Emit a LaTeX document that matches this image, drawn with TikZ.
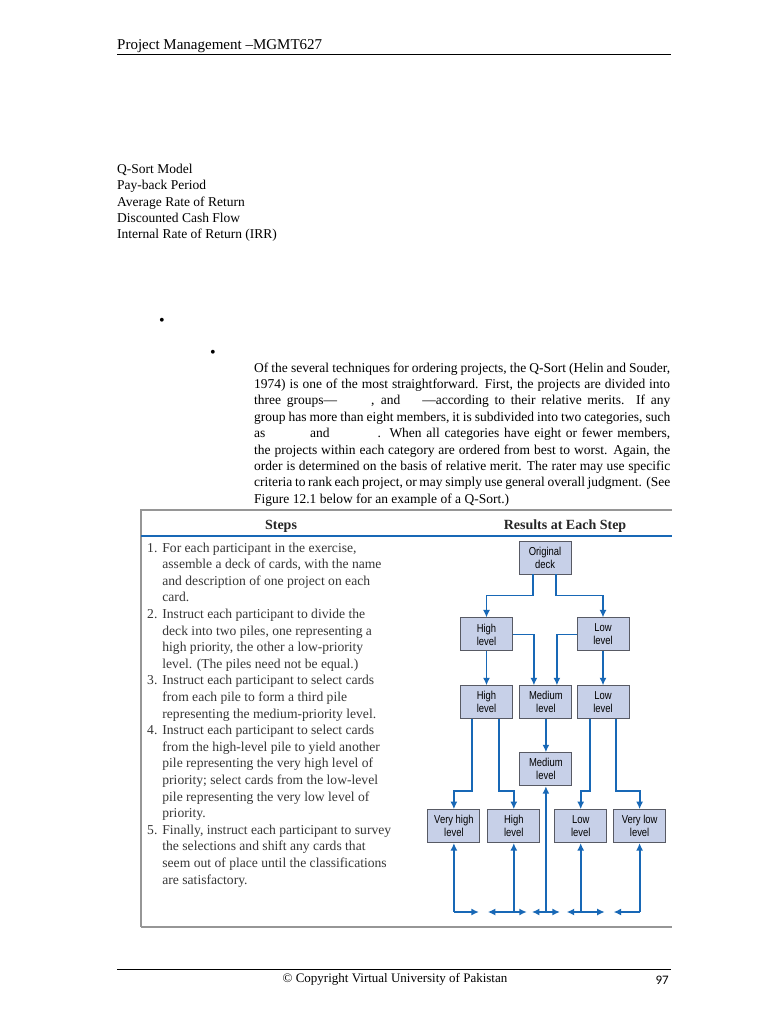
\documentclass[tikz,border=0pt]{standalone}
\usepackage{fontspec}
\setmainfont{Liberation Serif}
\newfontfamily\pilefont[FakeStretch=0.82]{Liberation Sans}
\newfontfamily\pagenumfont{Carlito}
\usetikzlibrary{arrows.meta,positioning}
\definecolor{pileFill}{RGB}{199,208,232}
\definecolor{pileLine}{RGB}{88,90,100}
\definecolor{flowBlue}{RGB}{24,104,182}
\definecolor{frameGray}{RGB}{150,150,150}
\definecolor{stepInk}{RGB}{55,55,55}
\tikzset{
  pile/.style={draw=pileLine, line width=0.9pt, fill=pileFill, align=center, minimum width=52pt, minimum height=33pt, inner sep=0pt, font=\pilefont\fontsize{11.5}{13}\selectfont},
  flow/.style={-{Latex[length=7.5pt,width=7pt]}, line width=1.8pt, draw=flowBlue},
  bodytext/.style={inner sep=0pt, anchor=base west, align=left, font=\fontsize{13.5}{16}\selectfont},
  colhead/.style={inner sep=0pt, anchor=base, font=\fontsize{14}{16}\selectfont\bfseries, text=black!85},
  pagerule/.style={line width=0.9pt, draw=black}
}

\begin{document}
\begin{tikzpicture}[x=1pt, y=-1pt]
  \useasboundingbox[fill=white] (0,0) rectangle (768,1024);

  % page head and foot
  \node[bodytext, font=\fontsize{15}{17}\selectfont] (runhead) at (117,50) {Project Management --MGMT627};
  \draw[pagerule] (117,54) -- (671,54);
  \draw[pagerule] (117,969) -- (671,969);
  \node[inner sep=0pt, anchor=base, font=\fontsize{13}{15}\selectfont] (copy) at (395,982) {\textcopyright{} Copyright Virtual University of Pakistan};
  \node[inner sep=0pt, anchor=base east, font=\pagenumfont\fontsize{13}{15}\selectfont] (pagenum) at (669,984) {97};

  % list of models (base sits on the last line)
  \node[bodytext] (models) at (117,238) {Q-Sort Model\\Pay-back Period\\Average Rate of Return\\Discounted Cash Flow\\Internal Rate of Return (IRR)};

  \node[bodytext, font=\fontsize{16}{18}\selectfont] (bulletA) at (159,325) {\textbullet};
  \node[bodytext, font=\fontsize{16}{18}\selectfont] (bulletB) at (210,357) {\textbullet};

  \node[bodytext, font=\fontsize{13.5}{16.4}\selectfont] (para) at (254,503.2) {%
    \makebox[416pt][s]{Of the several techniques for ordering projects, the Q-Sort (Helin and Souder,}\\
    \makebox[416pt][s]{1974) is one of the most straightforward. First, the projects are divided into}\\
    \makebox[416pt][s]{three groups---\hspace{34pt}, and\hspace{22pt}---according to their relative merits. If any}\\
    \makebox[416pt][s]{group has more than eight members, it is subdivided into two categories, such}\\
    \makebox[416pt][s]{as\hspace{40pt} and\hspace{48pt}. When all categories have eight or fewer members,}\\
    \makebox[416pt][s]{the projects within each category are ordered from best to worst. Again, the}\\
    \makebox[416pt][s]{order is determined on the basis of relative merit. The rater may use specific}\\
    \makebox[416pt][s]{criteria to rank each project, or may simply use general overall judgment. (See}\\
    Figure 12.1 below for an example of a Q-Sort.)};

  % figure frame
  \draw[frameGray, line width=1.2pt] (672,510) -- (141,510) -- (141,927);
  \draw[frameGray, line width=2pt] (141,927) -- (672,927);
  \draw[flowBlue, line width=1.1pt] (141,536) -- (672,536);
  \node[colhead] (stepsHead) at (281,529) {Steps};
  \node[colhead] (resultsHead) at (565,529) {Results at Each Step};

  \node[inner sep=0pt, anchor=base west, text=stepInk, font=\fontsize{13.6}{16.6}\selectfont] (steps) at (147,552) {%
    \begin{tabular}[t]{@{}r@{\hspace{5pt}}l@{}}
    1. & For each participant in the exercise,\\
       & assemble a deck of cards, with the name\\
       & and description of one project on each\\
       & card.\\
    2. & Instruct each participant to divide the\\
       & deck into two piles, one representing a\\
       & high priority, the other a low-priority\\
       & level. (The piles need not be equal.)\\
    3. & Instruct each participant to select cards\\
       & from each pile to form a third pile\\
       & representing the medium-priority level.\\
    4. & Instruct each participant to select cards\\
       & from the high-level pile to yield another\\
       & pile representing the very high level of\\
       & priority; select cards from the low-level\\
       & pile representing the very low level of\\
       & priority.\\
    5. & Finally, instruct each participant to survey\\
       & the selections and shift any cards that\\
       & seem out of place until the classifications\\
       & are satisfactory.
    \end{tabular}};

  % piles
  \node[pile] (deck) at (545,557.5) {Original\\deck};
  \node[pile, below=43pt of deck, xshift=-58.5pt] (highA) {High\\level};
  \node[pile, below=43pt of deck, xshift=58pt] (lowA) {Low\\level};
  \node[pile, below=34pt of highA] (highB) {High\\level};
  \node[pile, right=6.5pt of highB] (medB) {Medium\\level};
  \node[pile, below=34pt of lowA] (lowB) {Low\\level};
  \node[pile, below=33pt of medB] (medC) {Medium\\level};
  \node[pile, below=23pt of medC, xshift=-92pt] (vhighC) {Very high\\level};
  \node[pile, right=7pt of vhighC] (highC) {High\\level};
  \node[pile, right=14pt of highC] (lowC) {Low\\level};
  \node[pile, right=6pt of lowC] (vlowC) {Very low\\level};

  \draw[flow] ([xshift=-12pt]deck.south) -- ++(0,21) -| (highA.north);
  \draw[flow] ([xshift=11pt]deck.south) -- ++(0,21) -| (lowA.north);
  \draw[flow] (highA.east) -| ([xshift=-12pt]medB.north);
  \draw[flow] (lowA.west) -| ([xshift=11pt]medB.north);
  \draw[flow] (highA) -- (highB);
  \draw[flow] (lowA) -- (lowB);
  \draw[flow] (medB) -- (medC);
  \draw[flow] ([xshift=-14.5pt]highB.south) -- ++(0,72) -| (vhighC.north);
  \draw[flow] ([xshift=12.5pt]highB.south) -- ++(0,72) -| (highC.north);
  \draw[flow] ([xshift=-13pt]lowB.south) -- ++(0,72) -| (lowC.north);
  \draw[flow] ([xshift=13pt]lowB.south) -- ++(0,72) -| (vlowC.north);

  % reshuffling along the bottom
  \coordinate (vhighFoot) at (vhighC.south |- 0,912);
  \coordinate (highFoot) at (highC.south |- 0,912);
  \coordinate (medFoot) at (medC.south |- 0,912);
  \coordinate (lowFoot) at (lowC.south |- 0,912);
  \coordinate (vlowFoot) at (vlowC.south |- 0,912);
  \draw[flow] (vhighFoot) -- (vhighC.south);
  \draw[flow] (highFoot) -- (highC.south);
  \draw[flow] (medFoot) -- (medC.south);
  \draw[flow] (lowFoot) -- (lowC.south);
  \draw[flow] (vlowFoot) -- (vlowC.south);
  \draw[flow] (vhighFoot) -- ++(25,0);
  \draw[flow] (highFoot) -- ++(-26,0);
  \draw[flow] (highFoot) -- ++(13,0);
  \draw[flow] (medFoot) -- ++(-14,0);
  \draw[flow] (medFoot) -- ++(14,0);
  \draw[flow] (lowFoot) -- ++(-14,0);
  \draw[flow] (lowFoot) -- ++(24,0);
  \draw[flow] (vlowFoot) -- ++(-26,0);
\end{tikzpicture}
\end{document}
